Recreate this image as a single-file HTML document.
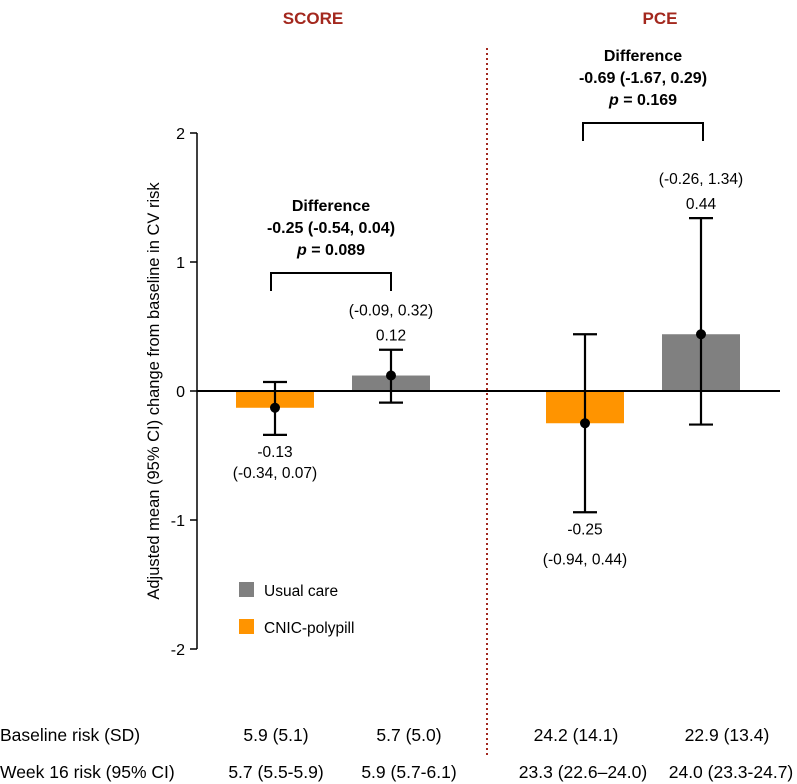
<!DOCTYPE html>
<html><head><meta charset="utf-8"><style>
body{margin:0;background:#fff;}
svg{display:block;font-family:"Liberation Sans",Arial,sans-serif;}
</style></head><body>
<svg id="chart" width="797" height="784" viewBox="0 0 797 784">
<text x="313" y="24" text-anchor="middle" font-size="17" font-weight="bold" fill="#a3281e">SCORE</text>
<text x="660" y="24" text-anchor="middle" font-size="17" font-weight="bold" fill="#a3281e">PCE</text>
<line x1="487" y1="48" x2="487" y2="758" stroke="#a3281e" stroke-width="2" stroke-dasharray="2,3"/>
<text transform="translate(159,391) rotate(-90)" text-anchor="middle" font-size="16.5">Adjusted mean (95% CI) change from baseline in CV risk</text>
<g id="axis"></g>
<g id="marks"></g>
<g>
<rect x="239" y="582" width="15" height="15" fill="#808080"/>
<text x="264" y="596" font-size="15.5">Usual care</text>
<rect x="239" y="619" width="15" height="15" fill="#ff9400"/>
<text x="264" y="633" font-size="15.5">CNIC-polypill</text>
</g>
<g font-size="17.5">
<text x="0" y="741">Baseline risk (SD)</text>
<text x="0" y="778">Week 16 risk (95% CI)</text>
</g>
<g id="table" font-size="17.5" text-anchor="middle"></g>
</svg>
<script>
const categories=["SCORE polypill","SCORE usual care","PCE polypill","PCE usual care"];
const means=[-0.13,0.12,-0.25,0.44];
const lows=[-0.34,-0.09,-0.94,-0.26];
const highs=[0.07,0.32,0.44,1.34];
const colors=["#ff9400","#808080","#ff9400","#808080"];
const baselineRisk=["5.9 (5.1)","5.7 (5.0)","24.2 (14.1)","22.9 (13.4)"];
const week16Risk=["5.7 (5.5-5.9)","5.9 (5.7-6.1)","23.3 (22.6–24.0)","24.0 (23.3-24.7)"];
const yTicks=[2,1,0,-1,-2];
const diffs=[{text:"-0.25 (-0.54, 0.04)",p:"0.089"},{text:"-0.69 (-1.67, 0.29)",p:"0.169"}];
const NS="http://www.w3.org/2000/svg";
function y(v){return 391-129*v;}
const centers=[275,391,585,701];
const tableX1=[276,409,576,727];
const tableX2=[276,409,583,731];
const bw=78;
function mk(tag,attrs,parent,txt){const e=document.createElementNS(NS,tag);for(const k in attrs)e.setAttribute(k,attrs[k]);if(txt!=null)e.textContent=txt;parent.appendChild(e);return e;}
const axis=document.getElementById('axis');
const marks=document.getElementById('marks');
const table=document.getElementById('table');
let l=mk('line',{x1:197,y1:y(2),x2:197,y2:y(-2),stroke:'#000','stroke-width':1.5},axis);


yTicks.forEach(t=>{
 let tk=mk('line',{x1:190,x2:197,y1:y(t),y2:y(t),stroke:'#000','stroke-width':1.5},axis);
 
 
 let tx=mk('text',{x:185,y:y(t)+6,'text-anchor':'end','font-size':16},axis,String(t));
 
 
});
categories.forEach((c,i)=>{
 const cx=centers[i];
 const top=Math.min(y(means[i]),y(0)),h=Math.abs(y(means[i])-y(0));
 let b=mk('rect',{x:cx-bw/2,y:top,width:bw,height:h,fill:colors[i]},marks);
 
 
});
let zl=mk('line',{x1:197,x2:780,y1:y(0),y2:y(0),stroke:'#000','stroke-width':2},marks);


categories.forEach((c,i)=>{
 const cx=centers[i];
 const g=mk('g',{stroke:'#000','stroke-width':2.2},marks);
 
 
 mk('line',{x1:cx,x2:cx,y1:y(highs[i]),y2:y(lows[i])},g);
 mk('line',{x1:cx-12,x2:cx+12,y1:y(highs[i]),y2:y(highs[i])},g);
 mk('line',{x1:cx-12,x2:cx+12,y1:y(lows[i]),y2:y(lows[i])},g);
 let d=mk('circle',{cx:cx,cy:y(means[i]),r:5,fill:'#000'},marks);
 
 
 const ci='('+lows[i].toFixed(2)+', '+highs[i].toFixed(2)+')';
 let t1,t2;
 if(means[i]<0){
  const by=y(lows[i]);
  t1=mk('text',{x:cx,y:by+22,'text-anchor':'middle','font-size':15.5},marks,means[i].toFixed(2));
  t2=mk('text',{x:cx,y:by+(i==2?52:43),'text-anchor':'middle','font-size':15.5},marks,ci);
 }else{
  const ty=y(highs[i]);
  t1=mk('text',{x:cx,y:ty-9,'text-anchor':'middle','font-size':15.5},marks,means[i].toFixed(2));
  t2=mk('text',{x:cx,y:ty-34,'text-anchor':'middle','font-size':15.5},marks,ci);
 }
 
 
 
 
 let r1=mk('text',{x:tableX1[i],y:741},table,baselineRisk[i]);
 
 
 let r2=mk('text',{x:tableX2[i],y:778},table,week16Risk[i]);
 
 
});
diffs.forEach((d,k)=>{
 const x1=centers[2*k]-(k==0?4:2),x2=centers[2*k+1]+(k==0?0:2);
 const by=k==0?273:123;
 const g=mk('g',{},marks);
 
 
 mk('path',{d:`M${x1},${by+18}V${by}H${x2}V${by+18}`,fill:'none',stroke:'#000','stroke-width':2},g);
 const cx=(x1+x2)/2;
 mk('text',{x:cx,y:by-62,'text-anchor':'middle','font-size':16,'font-weight':'bold'},g,'Difference');
 mk('text',{x:cx,y:by-40,'text-anchor':'middle','font-size':16,'font-weight':'bold'},g,d.text);
 const t=mk('text',{x:cx,y:by-18,'text-anchor':'middle','font-size':16,'font-weight':'bold'},g);
 mk('tspan',{'font-style':'italic'},t,'p');
 mk('tspan',{},t,' = '+d.p);
});
</script>
</body></html>
